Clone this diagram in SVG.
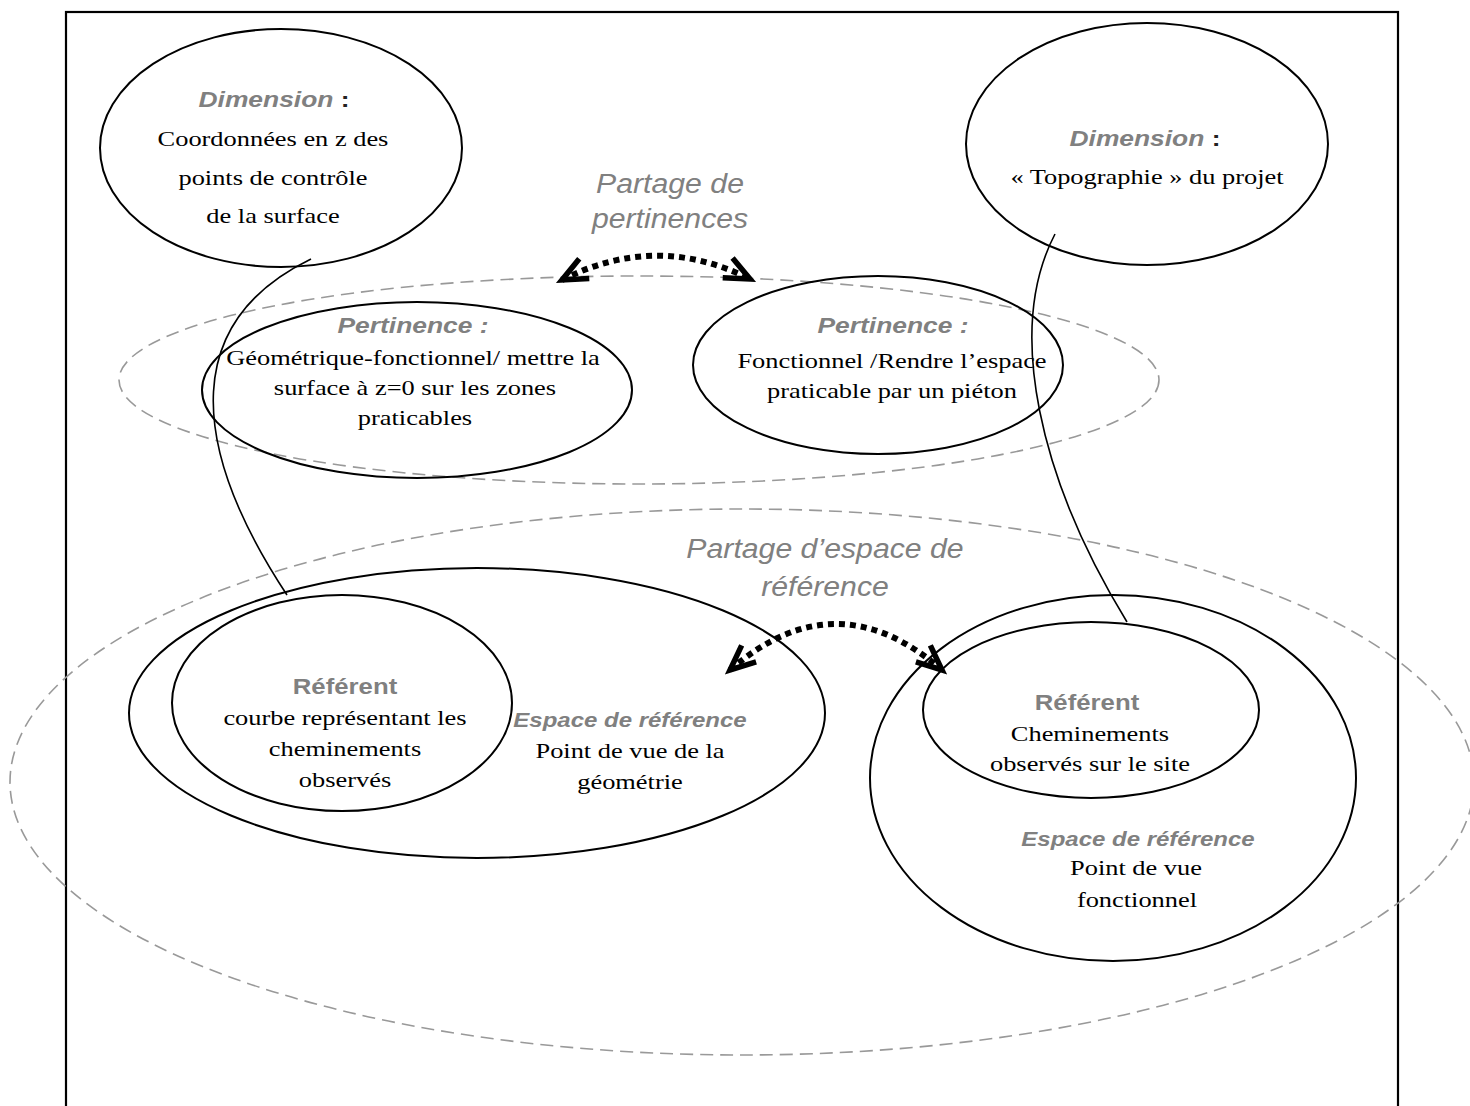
<svg xmlns="http://www.w3.org/2000/svg" width="1470" height="1106" viewBox="0 0 1470 1106">
  <style>
    .frame { fill: none; stroke: #000; stroke-width: 2.2; }
    .node { fill: none; stroke: #000; stroke-width: 2; }
    .zone { fill: none; stroke: #999; stroke-width: 1.6; stroke-dasharray: 13 7; }
    .link { fill: none; stroke: #000; stroke-width: 1.6; }
    .share { fill: none; stroke: #000; stroke-width: 6; stroke-dasharray: 6 5; }
    text { text-anchor: middle; }
    .ser { font-family: "Liberation Serif", "Times New Roman", serif; font-size: 22px; fill: #000; }
    .lab { font-family: "Liberation Sans", Arial, sans-serif; font-size: 22px; font-weight: bold; font-style: italic; fill: #808080; }
    .ref { font-family: "Liberation Sans", Arial, sans-serif; font-size: 23px; font-weight: bold; fill: #808080; }
    .esp { font-family: "Liberation Sans", Arial, sans-serif; font-size: 20px; font-weight: bold; font-style: italic; fill: #808080; }
    .part { font-family: "Liberation Sans", Arial, sans-serif; font-size: 27px; font-style: italic; fill: #808080; }
    .colon { font-style: normal; fill: #222; }
    .w12 { transform-box: fill-box; transform-origin: center; transform: scaleX(1.2); }
    .w11 { transform-box: fill-box; transform-origin: center; transform: scaleX(1.12); }
  </style>
  <defs>
    <marker id="chevron" markerUnits="userSpaceOnUse" markerWidth="40" markerHeight="40" viewBox="-30 -20 36 40" refX="0" refY="0" orient="auto-start-reverse" overflow="visible">
      <path d="M -25 -11 L 0 0 L -25 11" fill="none" stroke="#000" stroke-width="5.5" stroke-linejoin="miter" stroke-linecap="butt"/>
    </marker>
  </defs>

  <rect class="frame" x="66" y="12" width="1332" height="1110"/>

  <!-- shared zones -->
  <g id="zone-pertinences">
    <ellipse class="zone" cx="639" cy="380" rx="520" ry="104"/>
    <text class="part w11" x="670" y="193">Partage de</text>
    <text class="part w11" x="670" y="228">pertinences</text>
  </g>
  <g id="zone-espace">
    <ellipse class="zone" cx="742" cy="782" rx="732" ry="273"/>
    <text class="part w11" x="825" y="558">Partage d’espace de</text>
    <text class="part w11" x="825" y="596">référence</text>
  </g>

  <!-- connectors -->
  <g id="connectors">
    <path class="link" d="M 311 259 C 185 320, 185 440, 287 595"/>
    <path class="link" d="M 1055 234 C 1005 330, 1040 480, 1127 622"/>
    <path class="share" d="M 562 280 Q 656 232 750 279" marker-start="url(#chevron)" marker-end="url(#chevron)"/>
    <path class="share" d="M 730 670 Q 836 578 942 670" marker-start="url(#chevron)" marker-end="url(#chevron)"/>
  </g>

  <g id="dimension-left">
    <ellipse class="node" cx="281" cy="148" rx="181" ry="119"/>
    <text class="lab w12" x="274" y="107">Dimension<tspan class="colon"> :</tspan></text>
    <text class="ser w12" x="273" y="146">Coordonnées en z des</text>
    <text class="ser w12" x="273" y="185">points de contrôle</text>
    <text class="ser w12" x="273" y="223">de la surface</text>
  </g>

  <g id="dimension-right">
    <ellipse class="node" cx="1147" cy="144" rx="181" ry="121"/>
    <text class="lab w12" x="1145" y="146">Dimension<tspan class="colon"> :</tspan></text>
    <text class="ser w12" x="1147" y="184">« Topographie » du projet</text>
  </g>

  <g id="pertinence-left">
    <ellipse class="node" cx="417" cy="390" rx="215" ry="88"/>
    <text class="lab w12" x="413" y="333">Pertinence :</text>
    <text class="ser w12" x="413" y="365">Géométrique-fonctionnel/ mettre la</text>
    <text class="ser w12" x="415" y="395">surface à z=0 sur les zones</text>
    <text class="ser w12" x="415" y="425">praticables</text>
  </g>

  <g id="pertinence-right">
    <ellipse class="node" cx="878" cy="365" rx="185" ry="89"/>
    <text class="lab w12" x="893" y="333">Pertinence :</text>
    <text class="ser w12" x="892" y="368">Fonctionnel /Rendre l’espace</text>
    <text class="ser w12" x="892" y="398">praticable par un piéton</text>
  </g>

  <g id="espace-left">
    <ellipse class="node" cx="477" cy="713" rx="348" ry="145"/>
    <text class="esp w12" x="630" y="727">Espace de référence</text>
    <text class="ser w12" x="630" y="758">Point de vue de la</text>
    <text class="ser w12" x="630" y="789">géométrie</text>
  </g>

  <g id="referent-left">
    <ellipse class="node" cx="342" cy="703" rx="170" ry="108"/>
    <text class="ref w11" x="345" y="694">Référent</text>
    <text class="ser w12" x="345" y="725">courbe représentant les</text>
    <text class="ser w12" x="345" y="756">cheminements</text>
    <text class="ser w12" x="345" y="787">observés</text>
  </g>

  <g id="espace-right">
    <ellipse class="node" cx="1113" cy="778" rx="243" ry="183"/>
    <text class="esp w12" x="1138" y="846">Espace de référence</text>
    <text class="ser w12" x="1136" y="875">Point de vue</text>
    <text class="ser w12" x="1137" y="907">fonctionnel</text>
  </g>

  <g id="referent-right">
    <ellipse class="node" cx="1091" cy="710" rx="168" ry="88"/>
    <text class="ref w11" x="1087" y="710">Référent</text>
    <text class="ser w12" x="1090" y="741">Cheminements</text>
    <text class="ser w12" x="1090" y="771">observés sur le site</text>
  </g>
</svg>
